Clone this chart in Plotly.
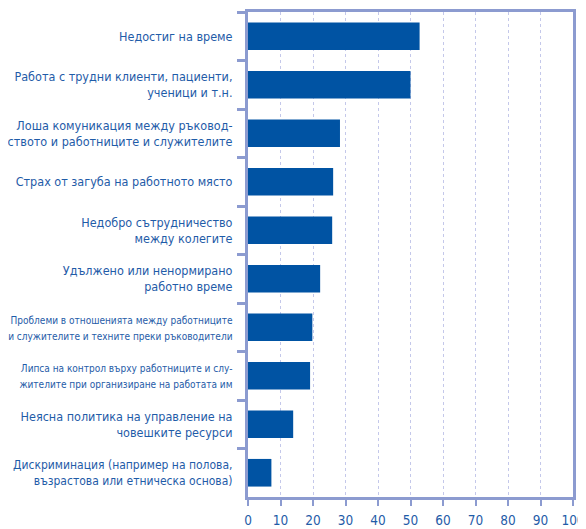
import plotly.graph_objects as go

SMALL = '<span style="font-size:10px">{}</span>'
MID = '<span style="font-size:12px">{}</span>'
categories = [
    "Недостиг на време",
    "Работа с трудни клиенти, пациенти,<br>ученици и т.н.",
    "Лоша комуникация между ръковод-<br>ството и работниците и служителите",
    "Страх от загуба на работното място",
    "Недобро сътрудничество<br>между колегите",
    "Удължено или ненормирано<br>работно време",
    SMALL.format("Проблеми в отношенията между работниците") + "<br>" + SMALL.format("и служителите и техните преки ръководители"),
    SMALL.format("Липса на контрол върху работниците и слу-") + "<br>" + SMALL.format("жителите при организиране на работата им"),
    "Неясна политика на управление на<br>човешките ресурси",
    MID.format("Дискриминация (например на полова,") + "<br>" + MID.format("възрастова или етническа основа)"),
]
values = [52.8, 50.0, 28.3, 26.2, 25.9, 22.2, 19.8, 19.1, 13.9, 7.2]
x_ticks = [0, 10, 20, 30, 40, 50, 60, 70, 80, 90, 100]

AXIS = "#8c9bd0"
TEXT = "#1f5ca8"
FONT = "DejaVu Sans Condensed, Liberation Sans Narrow, Arial Narrow, sans-serif"

fig = go.Figure(go.Bar(
    x=values, y=categories, orientation="h",
    marker=dict(color="#0053a3", line=dict(width=0)),
    width=0.57,
))

fig.update_layout(
    width=578, height=521,
    margin=dict(l=240, r=13, t=4, b=32, autoexpand=False),
    paper_bgcolor="white", plot_bgcolor="white",
    font=dict(family=FONT, size=12.5, color=TEXT),
    showlegend=False,
)
fig.update_xaxes(
    range=[0, 100], tickvals=x_ticks, ticktext=[str(v) for v in x_ticks],
    showline=True, linecolor=AXIS, linewidth=3, mirror=True,
    ticks="outside", ticklen=6, tickwidth=2, tickcolor=AXIS,
    showgrid=True, gridcolor="#c4c8ea", gridwidth=1, griddash="dot",
    tickfont=dict(size=13.5, color=TEXT), zeroline=False,
    tickangle=0, automargin=False, ticklabelstandoff=3,
    ticklabeloverflow="allow",
)
fig.update_yaxes(
    autorange="reversed", type="category",
    showline=True, linecolor=AXIS, linewidth=3, mirror=True,
    ticks="outside", ticklen=8, tickwidth=3, tickcolor=AXIS,
    tickson="boundaries", showgrid=False,
    tickfont=dict(size=12.5, color=TEXT),
    ticklabelstandoff=10, automargin=False,
    ticklabeloverflow="allow",
)

fig.write_html("out.html")
